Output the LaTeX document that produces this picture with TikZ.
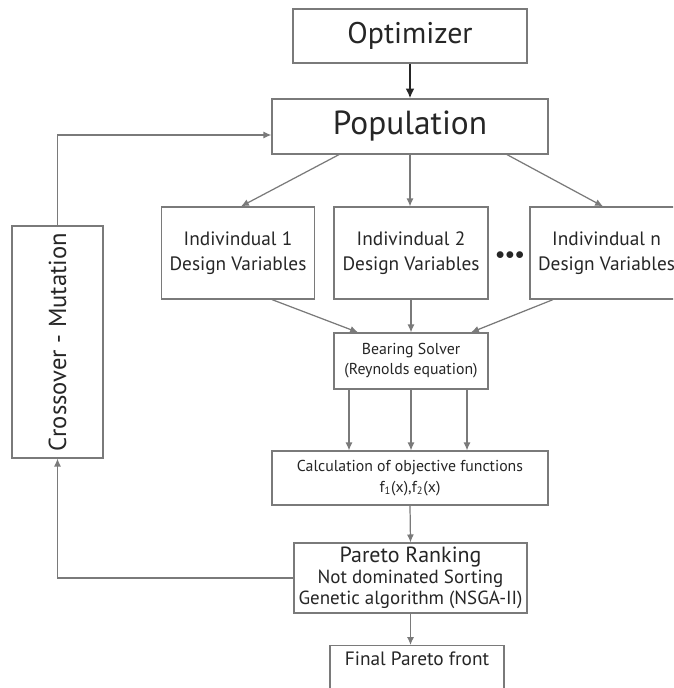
\documentclass[tikz,border=0pt]{standalone}
\usepackage{fontspec}
\setmainfont{PT Sans}
\usepackage{tikz}
\usetikzlibrary{arrows.meta, positioning, calc}
\usepackage{xcolor}
\definecolor{linegray}{HTML}{7A7A7A}
\definecolor{textgray}{HTML}{262626}

\begin{document}
\begin{tikzpicture}[
    x=0.02cm, y=-0.02cm,
    box/.style={draw=linegray, line width=0.7pt, inner sep=0pt, align=center, text=textgray},
    arr/.style={-{Latex[length=4.5pt, width=4pt]}, linegray, line width=0.7pt},
    bigarr/.style={-{Latex[length=5.5pt, width=5pt]}, black!85, line width=1.3pt}
]
    \clip (0,0) rectangle (673,688);
    \fill[white] (0,0) rectangle (673,688);

    % top of the loop
    \node[box, minimum width=234*0.02cm, minimum height=54*0.02cm, font=\fontsize{17}{20}\selectfont] (opt) at (410,36) {Optimizer};
    \node[box, minimum width=276*0.02cm, minimum height=55*0.02cm, font=\fontsize{19}{23}\selectfont] (pop) at (410,126.5) {Population};

    % individuals
    \node[box, minimum width=153*0.02cm, minimum height=92*0.02cm, font=\fontsize{11}{14}\selectfont] (ind1) at (238,253) {Indivindual 1\\Design Variables};
    \node[box, minimum width=154*0.02cm, minimum height=92*0.02cm, font=\fontsize{11}{14}\selectfont] (ind2) at (411,253) {Indivindual 2\\Design Variables};
    \node[box, minimum width=153*0.02cm, minimum height=92*0.02cm, font=\fontsize{11}{14}\selectfont] (indn) at (606.5,253) {Indivindual n\\Design Variables};
    \node[text=black!85, font=\fontsize{10}{12}\selectfont] (dots) at (510,256) {$\bullet\!\bullet\!\bullet$};

    % solver and objectives
    \node[box, minimum width=154*0.02cm, minimum height=56*0.02cm, font=\fontsize{9}{11.5}\selectfont] (bear) at (411,361) {Bearing Solver\\(Reynolds equation)};
    \node[box, minimum width=276*0.02cm, minimum height=54*0.02cm, font=\fontsize{9}{12}\selectfont] (calc) at (410,478) {Calculation of objective functions\\f\textsubscript{1}(x),f\textsubscript{2}(x)};

    % ranking
    \node[box, minimum width=233*0.02cm, minimum height=70*0.02cm, font=\fontsize{10.8}{12}\selectfont] (pareto) at (410.5,578) {{\fontsize{12.5}{13}\selectfont Pareto Ranking}\\Not dominated Sorting\\Genetic algorithm (NSGA-II)};
    \node[box, minimum width=174*0.02cm, anchor=north, text height=8.5pt, text depth=30pt, inner ysep=3pt, font=\fontsize{11}{13}\selectfont] (final) at (417,645) {Final Pareto front};

    % crossover - mutation
    \node[box, minimum width=232*0.02cm, minimum height=91*0.02cm, rotate=90, font=\fontsize{14}{16}\selectfont] (cross) at (57.5,342) {Crossover - Mutation};

    % connectors
    \draw[bigarr] (opt.south) -- (pop.north);
    \draw[arr] ($(pop.south)+(-71,0)$) -- ($(ind1.north)+(3,0)$);
    \draw[arr] (pop.south) -- (pop.south |- ind2.north);
    \draw[arr] ($(pop.south)+(97,0)$) -- ($(indn.north)+(-3.5,0)$);

    \draw[arr] ($(ind1.south)+(34,0)$) -- ($(bear.north)+(-53,0)$);
    \draw[arr] (ind2.south) -- (bear.north);
    \draw[arr] ($(indn.south)+(-53.5,0)$) -- ($(bear.north)+(60,0)$);

    \draw[arr] ($(bear.south)+(-62,0)$) coordinate (b1) -- (b1 |- calc.north);
    \draw[arr] (bear.south) -- (bear.south |- calc.north);
    \draw[arr] ($(bear.south)+(56,0)$) coordinate (b3) -- (b3 |- calc.north);

    \draw[arr] (calc.south) -- (pareto.north);
    \draw[arr] (pareto.south) -- (pareto.south |- final.north);

    % feedback loop (cross is turned, so west is its lower side)
    \draw[arr] (pareto.west) -| (cross.west);
    \draw[arr] (cross.east) |- ($(pop.west)+(0,8.5)$);
\end{tikzpicture}
\end{document}
